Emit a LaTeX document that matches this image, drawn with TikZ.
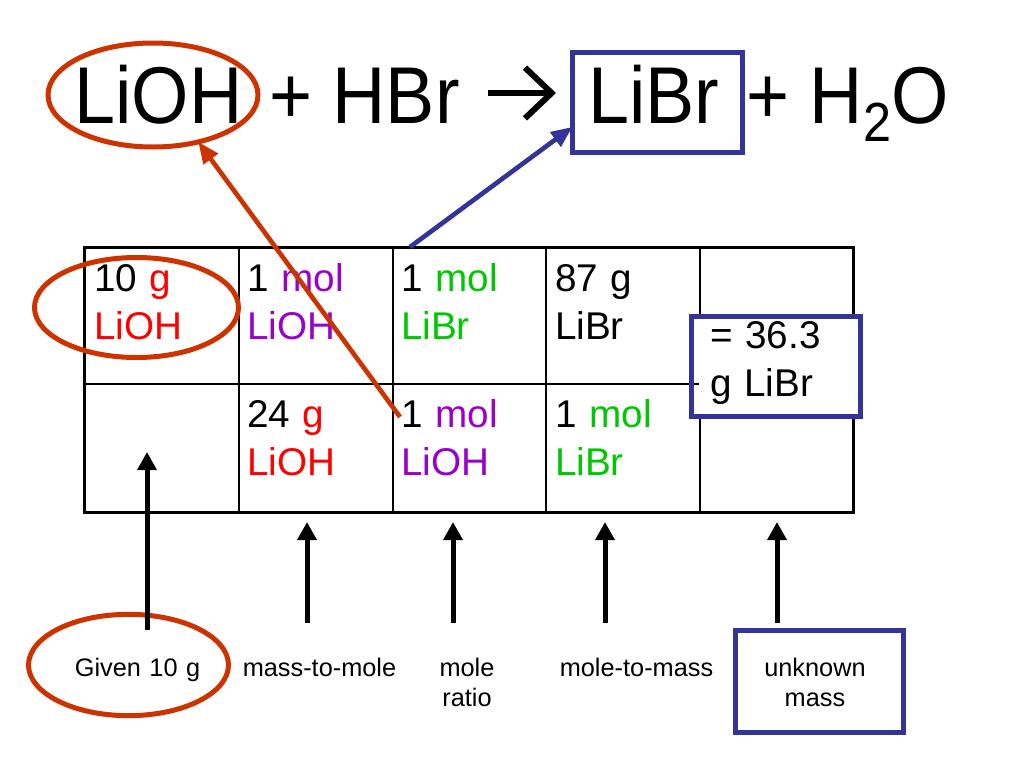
\documentclass[tikz,border=0pt]{standalone}
\usepackage{fontspec}
\setmainfont{Liberation Sans}
\usetikzlibrary{shapes.geometric,arrows.meta}
\definecolor{ringred}{RGB}{204,51,0}
\definecolor{boxblue}{RGB}{51,51,153}
\definecolor{gred}{RGB}{255,0,0}
\definecolor{molpurple}{RGB}{153,0,204}
\definecolor{molgreen}{RGB}{0,200,0}
\newcommand{\tall}[1]{\scalebox{0.97}[1.06]{#1}}

\begin{document}
\begin{tikzpicture}[
		x=0.75pt, y=-0.75pt,
		every node/.style={inner sep=0pt, outer sep=0pt},
		eqn/.style={anchor=base, font=\fontsize{57}{62}\selectfont},
		cell/.style={anchor=base west, text width=105pt, align=left, font=\fontsize{29}{36}\selectfont},
		note/.style={anchor=base, text width=120pt, align=center, font=\fontsize{19}{23}\selectfont},
		redring/.style={ellipse, draw=ringred, line width=3.75pt},
		bluebox/.style={rectangle, draw=boxblue, line width=3.75pt},
		tablegrid/.style={line width=1.1pt},
		tableborder/.style={line width=2.25pt},
		yields/.style={line width=4.5pt, -{Straight Barb[length=20pt, width=38pt]}},
		riser/.style={line width=3.75pt, -{Triangle[length=13.5pt, width=14pt]}},
		redarrow/.style={draw=ringred, line width=3.5pt, -{Triangle[length=16pt, width=13pt]}},
		bluearrow/.style={draw=boxblue, line width=3.5pt, -{Triangle[length=16pt, width=13pt]}}
	]
  \useasboundingbox (0,0) rectangle (1024,768);

  \node (lioh) [eqn] at (158.5,123) {\tall{LiOH}};
  \node (plus_hbr) [eqn] at (364.5,123) {\tall{+ HBr}};
  \node (libr) [eqn] at (654,123) {\tall{LiBr}};
  \node (plus_water) [eqn] at (847.5,123) {\tall{+ H\raisebox{-12.75pt}{\fontsize{39}{39}\selectfont 2}O}};
  \coordinate (arrow_from) at (488,93);
  \coordinate (arrow_to) at (556,93);
  \draw [yields] (arrow_from) -- (arrow_to);

  \draw [tablegrid] (84,384) -- (853,384);
  \draw [tablegrid] (239,247) -- (239,512);
  \draw [tablegrid] (393,247) -- (393,512);
  \draw [tablegrid] (546,247) -- (546,512);
  \draw [tablegrid] (700,247) -- (700,512);
  \draw [tableborder] (84,247) rectangle (853,512);

  \node (c_11) [cell] at (94,291) {10 \textcolor{gred}{g}\\\textcolor{gred}{LiOH}};
  \node (c_12) [cell] at (247,291) {1 \textcolor{molpurple}{mol}\\\textcolor{molpurple}{LiOH}};
  \node (c_13) [cell] at (401,291) {1 \textcolor{molgreen}{mol}\\\textcolor{molgreen}{LiBr}};
  \node (c_14) [cell] at (555,291) {87 g\\LiBr};
  \node (c_22) [cell] at (247,427) {24 \textcolor{gred}{g}\\\textcolor{gred}{LiOH}};
  \node (c_23) [cell] at (401,427) {1 \textcolor{molpurple}{mol}\\\textcolor{molpurple}{LiOH}};
  \node (c_24) [cell] at (555,427) {1 \textcolor{molgreen}{mol}\\\textcolor{molgreen}{LiBr}};

  \fill [white] (699,318) rectangle (858,415);
  \node (c_15) [cell] at (710,348) {= 36.3\\g LiBr};

  \node (lioh_ring) [redring, minimum width=157.5pt, minimum height=78pt] at (153,95) {};
  \node (libr_box) [bluebox, minimum width=127.5pt, minimum height=75pt] at (657.5,102.5) {};
  \node (mass_ring) [redring, minimum width=153pt, minimum height=75pt] at (136.5,307.5) {};
  \node (result_box) [bluebox, minimum width=127pt, minimum height=75pt] at (776,366.5) {};

  \coordinate (red_from) at (400,417);
  \coordinate (blue_from) at (410,247);
  \draw [redarrow] (red_from) -- (lioh_ring.-46);
  \draw [bluearrow] (blue_from) -- (libr_box.196);

  \node (given_ring) [redring, minimum width=150pt, minimum height=76pt] at (128.5,665) {};
  \node (unknown_box) [bluebox, minimum width=126pt, minimum height=76.5pt] at (819.5,681.5) {};
  \node (given) [note] at (137.5,676) {Given 10 g};
  \node (mass_mole) [note] at (319.5,676) {mass-to-mole};
  \node (ratio) [note] at (467,676) {mole\\ratio};
  \node (mole_mass) [note] at (636.5,676) {mole-to-mass};
  \node (unknown) [note] at (815,676) {unknown\\mass};

  \coordinate (foot_1) at (147,630);
  \coordinate (head_1) at (147,452);
  \coordinate (foot_2) at (307,623);
  \coordinate (head_2) at (307,522);
  \coordinate (foot_3) at (453,623);
  \coordinate (head_3) at (453,522);
  \coordinate (foot_4) at (605,623);
  \coordinate (head_4) at (605,522);
  \coordinate (foot_5) at (777,623);
  \coordinate (head_5) at (777,522);
  \draw [riser] (foot_1) -- (head_1);
  \draw [riser] (foot_2) -- (head_2);
  \draw [riser] (foot_3) -- (head_3);
  \draw [riser] (foot_4) -- (head_4);
  \draw [riser] (foot_5) -- (head_5);
\end{tikzpicture}
\end{document}
